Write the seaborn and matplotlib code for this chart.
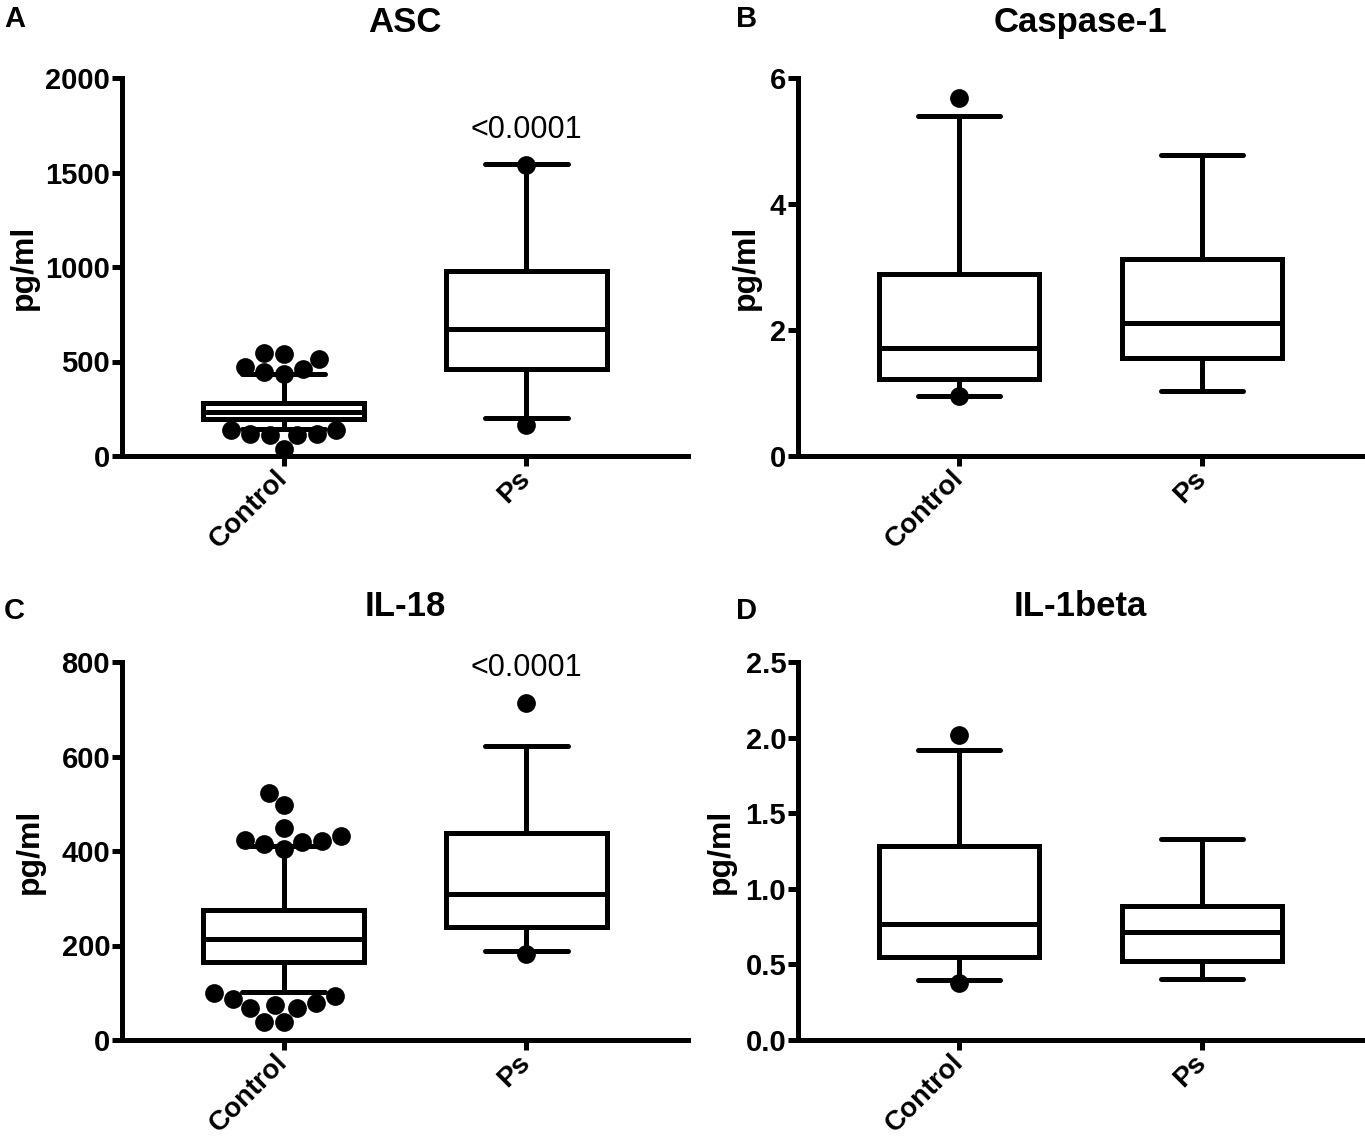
import numpy as np
import pandas as pd
import matplotlib
matplotlib.use("Agg")
import matplotlib.pyplot as plt
import seaborn as sns
from matplotlib.ticker import FormatStrFormatter

# ---------------- data ----------------
groups = ["Control", "Ps"]

asc_q1 = [197, 460]
asc_med = [232, 671]
asc_q3 = [282, 978]
asc_wlo = [144, 202]
asc_whi = [434, 1543]
asc_out_ctrl = [539, 469, 442, 434, 460, 513, 543, 135, 118, 109, 39, 109, 118, 135]
asc_out_ps = [1540, 162]

casp_q1 = [1.23, 1.55]
casp_med = [1.72, 2.11]
casp_q3 = [2.89, 3.13]
casp_wlo = [0.96, 1.03]
casp_whi = [5.40, 4.78]
casp_out_ctrl = [5.68, 0.95]
casp_out_ps = []

il18_q1 = [166, 240]
il18_med = [214, 310]
il18_q3 = [276, 438]
il18_wlo = [102, 188]
il18_whi = [410, 622]
il18_out_ctrl = [448, 424, 419, 405, 414, 421, 432, 523, 497,
                 86, 75, 67, 100, 93, 39, 39, 67, 79]
il18_out_ps = [713, 183]

il1b_q1 = [0.548, 0.52]
il1b_med = [0.77, 0.714]
il1b_q3 = [1.28, 0.887]
il1b_wlo = [0.397, 0.404]
il1b_whi = [1.92, 1.33]
il1b_out_ctrl = [2.02, 0.38]
il1b_out_ps = []

titles = ["ASC", "Caspase-1", "IL-18", "IL-1beta"]
letters = ["A", "B", "C", "D"]
y_label = "pg/ml"
p_text = "<0.0001"

# ---------------- style ----------------
sns.set_style("ticks")
plt.rcParams["font.family"] = ["Liberation Sans", "DejaVu Sans"]
plt.rcParams["text.color"] = "black"
plt.rcParams["axes.labelcolor"] = "black"
plt.rcParams["xtick.color"] = "black"
plt.rcParams["ytick.color"] = "black"
plt.rcParams["axes.edgecolor"] = "black"
LW = 3.6

fig = plt.figure(figsize=(13.65, 11.45), dpi=100)

W, H = 1365.0, 1145.0
rects = [
    [122 / W, (H - 456) / H, 566 / W, 378 / H],
    [798 / W, (H - 456) / H, 565 / W, 378 / H],
    [122 / W, (H - 1040) / H, 566 / W, 378 / H],
    [798 / W, (H - 1040) / H, 565 / W, 378 / H],
]

panels = [
    dict(q1=asc_q1, med=asc_med, q3=asc_q3, wlo=asc_wlo, whi=asc_whi,
         oc=asc_out_ctrl, op=asc_out_ps, ylim=(0, 2000),
         yticks=[0, 500, 1000, 1500, 2000], fmt="%d", pval=True, ylx=-0.173),
    dict(q1=casp_q1, med=casp_med, q3=casp_q3, wlo=casp_wlo, whi=casp_whi,
         oc=casp_out_ctrl, op=casp_out_ps, ylim=(0, 6),
         yticks=[0, 2, 4, 6], fmt="%d", pval=False, ylx=-0.092),
    dict(q1=il18_q1, med=il18_med, q3=il18_q3, wlo=il18_wlo, whi=il18_whi,
         oc=il18_out_ctrl, op=il18_out_ps, ylim=(0, 800),
         yticks=[0, 200, 400, 600, 800], fmt="%d", pval=True, ylx=-0.163),
    dict(q1=il1b_q1, med=il1b_med, q3=il1b_q3, wlo=il1b_wlo, whi=il1b_whi,
         oc=il1b_out_ctrl, op=il1b_out_ps, ylim=(0, 2.5),
         yticks=[0, 0.5, 1.0, 1.5, 2.0, 2.5], fmt="%.1f", pval=False, ylx=-0.137),
]

line = dict(color="black", linewidth=LW)

for i, p in enumerate(panels):
    ax = fig.add_axes(rects[i])
    df = pd.DataFrame({
        "group": ["Control"] * len(p["oc"]) + ["Ps"] * len(p["op"]),
        "value": list(p["oc"]) + list(p["op"]),
    })
    sns.swarmplot(data=df, x="group", y="value", order=groups, color="black",
                  size=13.5, ax=ax, zorder=4, linewidth=0)
    stats = [dict(med=p["med"][k], q1=p["q1"][k], q3=p["q3"][k],
                  whislo=p["wlo"][k], whishi=p["whi"][k], fliers=[],
                  label=groups[k]) for k in range(2)]
    ax.bxp(stats, positions=[0, 1], widths=0.66, capwidths=0.34,
           showfliers=False, patch_artist=True, manage_ticks=False,
           boxprops=dict(facecolor="white", edgecolor="black", linewidth=LW),
           medianprops=line, whiskerprops=line, capprops=line, zorder=2)

    ax.set_xlim(-0.665, 1.665)
    ax.set_ylim(*p["ylim"])
    ax.set_yticks(p["yticks"])
    ax.yaxis.set_major_formatter(FormatStrFormatter(p["fmt"]))
    ax.set_xticks([0, 1])
    ax.set_xticklabels(groups, rotation=45, ha="right", va="center",
                       rotation_mode="anchor", fontsize=20, fontweight="bold",
                       color="black")
    for lab in ax.get_yticklabels():
        lab.set_fontsize(21)
        lab.set_fontweight("bold")
        lab.set_color("black")
    ax.tick_params(axis="both", width=LW, length=7.5, color="black")
    ax.tick_params(axis="y", pad=1)
    ax.tick_params(axis="x", pad=6)
    for s in ["top", "right"]:
        ax.spines[s].set_visible(False)
    for s in ["left", "bottom"]:
        ax.spines[s].set_linewidth(LW)
        ax.spines[s].set_color("black")
        ax.spines[s].set_capstyle("projecting")
    ax.set_xlabel("")
    ax.set_ylabel(y_label, fontsize=23, fontweight="bold", va="center", color="black")
    ax.yaxis.set_label_coords(p["ylx"], 0.5)
    ax.set_title(titles[i], fontsize=25, fontweight="bold", pad=33, color="black")
    ax.set_facecolor("white")
    ax.grid(False)

    if p["pval"]:
        top = max([p["whi"][1]] + list(p["op"]))
        ax.annotate(p_text, xy=(1, top), xytext=(0, 25),
                    textcoords="offset points", ha="center", va="center",
                    fontsize=22, color="black")

# panel letters
fig.text(4 / W, 1 - 5 / H, letters[0], fontsize=21, fontweight="bold", va="top", ha="left")
fig.text(736 / W, 1 - 5 / H, letters[1], fontsize=21, fontweight="bold", va="top", ha="left")
fig.text(4 / W, 1 - 597 / H, letters[2], fontsize=21, fontweight="bold", va="top", ha="left")
fig.text(736 / W, 1 - 597 / H, letters[3], fontsize=21, fontweight="bold", va="top", ha="left")

fig.savefig("out.png", dpi=100, facecolor="white")
